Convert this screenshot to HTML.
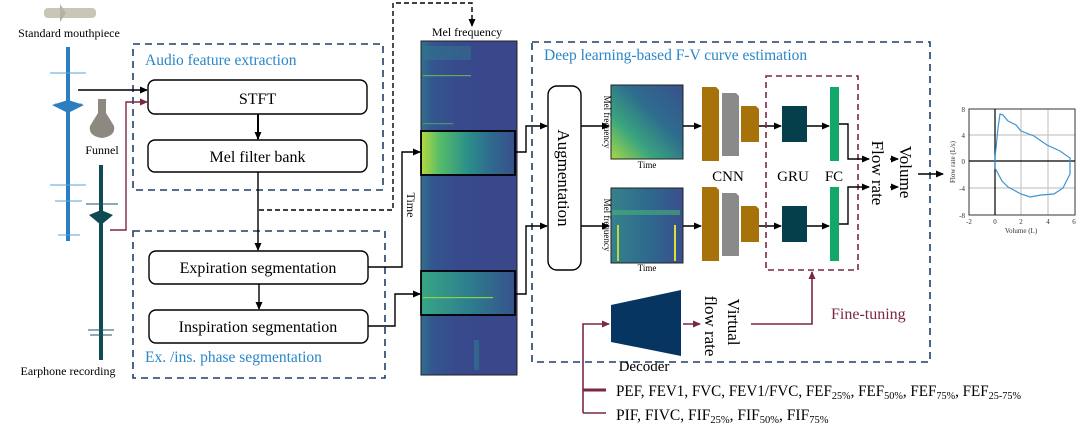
<!DOCTYPE html>
<html><head><meta charset="utf-8"><style>
html,body{margin:0;padding:0;background:#fff;}
svg{display:block;font-family:"Liberation Serif",serif;}
</style></head><body>
<svg width="1080" height="436" viewBox="0 0 1080 436" xmlns="http://www.w3.org/2000/svg">
<defs>
<marker id="ab" markerWidth="8" markerHeight="8" refX="7" refY="4" orient="auto" markerUnits="userSpaceOnUse"><path d="M0,0.5 L8,4 L0,7.5 Z" fill="#000"/></marker>
<marker id="am" markerWidth="8" markerHeight="8" refX="7" refY="4" orient="auto" markerUnits="userSpaceOnUse"><path d="M0,0.5 L8,4 L0,7.5 Z" fill="#7b2748"/></marker>
<linearGradient id="spg" x1="0" y1="0" x2="1" y2="0">
<stop offset="0" stop-color="#2f6f8e"/><stop offset="0.12" stop-color="#34568e"/><stop offset="0.4" stop-color="#38498c"/><stop offset="1" stop-color="#3a478a"/></linearGradient>
<linearGradient id="hot1" x1="0" y1="0" x2="1" y2="0">
<stop offset="0" stop-color="#b0d840"/><stop offset="0.2" stop-color="#55bb6a"/><stop offset="0.5" stop-color="#2a8f8a"/><stop offset="0.75" stop-color="#2f6a8e"/><stop offset="1" stop-color="#38508c"/></linearGradient>
<linearGradient id="hot2" x1="0" y1="0" x2="1" y2="0">
<stop offset="0" stop-color="#38a585"/><stop offset="0.5" stop-color="#2d7f8d"/><stop offset="1" stop-color="#36538c"/></linearGradient>
<linearGradient id="sm1" x1="0" y1="1" x2="1" y2="0">
<stop offset="0" stop-color="#a8d844"/><stop offset="0.3" stop-color="#3aa57e"/><stop offset="0.6" stop-color="#2e6d8e"/><stop offset="1" stop-color="#38508c"/></linearGradient>
<linearGradient id="sm2" x1="0" y1="0" x2="1" y2="0">
<stop offset="0" stop-color="#36828c"/><stop offset="0.5" stop-color="#2e6a8e"/><stop offset="1" stop-color="#3a4e8c"/></linearGradient>
</defs>

<!-- mouthpiece -->
<rect x="44" y="8" width="52" height="10" rx="4" fill="#c9c6b8"/>
<path d="M60,4 L66,13 L60,22 Z" fill="#b5b2a5"/>
<text x="69" y="37" font-size="12" text-anchor="middle">Standard mouthpiece</text>

<!-- blue waveform -->
<rect x="66" y="47" width="4" height="194" fill="#2b7fc0"/>
<path d="M50,73 H86 M55,104 L82,104 M50,185 H86 M55,201 H82 M58,235 H80" stroke="#5aa3d8" stroke-width="1"/>
<path d="M52,105 L68,100 L84,105 L68,113 Z" fill="#2b7fc0"/>
<!-- funnel -->
<path d="M98,99 L106,99 L106,113 L114,126 Q116,136 102,138 Q88,136 90,126 L98,113 Z" fill="#8d8880"/>
<text x="102" y="154" font-size="12" text-anchor="middle">Funnel</text>
<!-- dark waveform -->
<rect x="99" y="165" width="4" height="195" fill="#0f4a55"/>
<path d="M86,204 H118 M88,330 H114 M90,335 H112" stroke="#1a5a66" stroke-width="1"/>
<path d="M89,215 L101,210 L113,215 L101,225 Z" fill="#0f4a55"/>
<text x="68" y="375" font-size="12" text-anchor="middle">Earphone recording</text>

<!-- dashed boxes -->
<rect x="133" y="44" width="250" height="146" fill="none" stroke="#1f3f66" stroke-width="1.6" stroke-dasharray="7,5"/>
<rect x="133" y="231" width="252" height="147" fill="none" stroke="#1f3f66" stroke-width="1.6" stroke-dasharray="7,5"/>
<rect x="532" y="42" width="398" height="320" fill="none" stroke="#1f3f66" stroke-width="1.6" stroke-dasharray="7,5"/>
<text x="145" y="65" font-size="15.5" fill="#2a86c8">Audio feature extraction</text>
<text x="145" y="362" font-size="15.5" fill="#2a86c8">Ex. /ins. phase segmentation</text>
<text x="544" y="60" font-size="15.5" fill="#2a86c8">Deep learning-based F-V curve estimation</text>

<!-- left boxes -->
<rect x="148" y="80" width="219" height="34" rx="7" fill="#fff" stroke="#000" stroke-width="1.4"/>
<text x="257.5" y="104" font-size="16" text-anchor="middle">STFT</text>
<rect x="148" y="140" width="219" height="32" rx="7" fill="#fff" stroke="#000" stroke-width="1.4"/>
<text x="257.5" y="162" font-size="16" text-anchor="middle">Mel filter bank</text>
<rect x="149" y="251" width="219" height="33" rx="7" fill="#fff" stroke="#000" stroke-width="1.4"/>
<text x="258" y="273" font-size="16" text-anchor="middle">Expiration segmentation</text>
<rect x="149" y="310" width="219" height="33" rx="7" fill="#fff" stroke="#000" stroke-width="1.4"/>
<text x="258" y="332" font-size="16" text-anchor="middle">Inspiration segmentation</text>

<!-- arrows left -->
<path d="M78,90 H147" stroke="#000" stroke-width="1.4" fill="none" marker-end="url(#ab)"/>
<path d="M110,230 H126 V102 H147" stroke="#7b2748" stroke-width="1.4" fill="none" marker-end="url(#am)"/>
<path d="M258,114 V139" stroke="#000" stroke-width="2" marker-end="url(#ab)"/>
<path d="M258,172 V250" stroke="#000" stroke-width="1.4" marker-end="url(#ab)"/>
<path d="M259,284 V309" stroke="#000" stroke-width="1.4" marker-end="url(#ab)"/>
<path d="M259,210 H393 V3 H472 V26" stroke="#000" stroke-width="1.4" stroke-dasharray="5,3" fill="none" marker-end="url(#ab)"/>
<path d="M368,267 H402 V152 H420" stroke="#000" stroke-width="1.4" fill="none" marker-end="url(#ab)"/>
<path d="M368,326 H395 V294 H420" stroke="#000" stroke-width="1.4" fill="none" marker-end="url(#ab)"/>

<!-- big spectrogram -->
<text x="467" y="36" font-size="12" text-anchor="middle">Mel frequency</text>
<rect x="421" y="41" width="96" height="334" fill="url(#spg)" stroke="#222" stroke-width="1"/>
<rect x="423" y="46" width="48" height="14" fill="#2f7a8c" opacity="0.5"/>
<rect x="423" y="75" width="48" height="1.2" fill="#6fbf5a" opacity="0.8"/>
<rect x="423" y="123" width="30" height="1.2" fill="#4fa870" opacity="0.8"/>
<rect x="422" y="132" width="92" height="42" fill="url(#hot1)"/>
<rect x="422" y="272" width="92" height="42" fill="url(#hot2)"/>
<rect x="423" y="297" width="70" height="1.2" fill="#8fd04a"/>
<rect x="474" y="340" width="5" height="30" fill="#2f7a8c" opacity="0.6"/>
<rect x="421" y="131" width="94" height="44" fill="none" stroke="#000" stroke-width="1.8"/>
<rect x="421" y="271" width="94" height="44" fill="none" stroke="#000" stroke-width="1.8"/>
<text transform="translate(407,205) rotate(90)" font-size="12" text-anchor="middle">Time</text>
<path d="M515,152 H526 V126 H547" stroke="#000" stroke-width="1.4" fill="none" marker-end="url(#ab)"/>
<path d="M515,294 H526 V226 H547" stroke="#000" stroke-width="1.4" fill="none" marker-end="url(#ab)"/>

<!-- augmentation -->
<rect x="548" y="86" width="33" height="184" rx="9" fill="#fff" stroke="#000" stroke-width="1.4"/>
<text transform="translate(558,178) rotate(90)" font-size="17" text-anchor="middle">Augmentation</text>
<path d="M581,126 H609" stroke="#000" stroke-width="1.4" marker-end="url(#ab)"/>
<path d="M581,226 H609" stroke="#000" stroke-width="1.4" marker-end="url(#ab)"/>

<!-- small spectrograms -->
<rect x="611" y="85" width="72" height="74" fill="url(#sm1)" stroke="#222"/>
<rect x="611" y="188" width="72" height="75" fill="url(#sm2)" stroke="#222"/>
<rect x="612" y="210" width="68" height="5" fill="#46b07a" opacity="0.6"/>
<rect x="617" y="225" width="2" height="36" fill="#b7dc3e"/>
<rect x="674" y="225" width="2" height="36" fill="#d8e23a"/>
<text transform="translate(604,122) rotate(90)" font-size="9" text-anchor="middle">Mel frequency</text>
<text transform="translate(604,225) rotate(90)" font-size="9" text-anchor="middle">Mel frequency</text>
<text x="647" y="168" font-size="9" text-anchor="middle">Time</text>
<text x="647" y="271" font-size="9" text-anchor="middle">Time</text>
<path d="M683,126 H701" stroke="#000" stroke-width="1.4" marker-end="url(#ab)"/>
<path d="M683,226 H701" stroke="#000" stroke-width="1.4" marker-end="url(#ab)"/>

<!-- CNN blocks -->
<g id="cnn">
<path d="M702,87 L716,87 L719,90 L719,161 L702,161 Z" fill="#a8720a"/>
<path d="M722,93 L736,93 L739,96 L739,156 L722,156 Z" fill="#8a8a8a"/>
<path d="M741,106 L756,106 L759,109 L759,142 L741,142 Z" fill="#a8720a"/>
</g>
<use href="#cnn" transform="translate(0,100)"/>
<text x="728" y="181" font-size="15" text-anchor="middle">CNN</text>
<path d="M759,126 H781" stroke="#000" stroke-width="1.4" marker-end="url(#ab)"/>
<path d="M759,226 H781" stroke="#000" stroke-width="1.4" marker-end="url(#ab)"/>

<!-- fine-tune dashed -->
<rect x="766" y="76" width="92" height="194" fill="none" stroke="#7b2748" stroke-width="1.6" stroke-dasharray="6,4"/>
<rect x="782" y="106" width="25" height="36" fill="#063f4c"/>
<rect x="782" y="206" width="25" height="36" fill="#063f4c"/>
<rect x="830" y="87" width="9" height="74" fill="#13a86a"/>
<rect x="830" y="187" width="9" height="74" fill="#13a86a"/>
<text x="793" y="181" font-size="15" text-anchor="middle">GRU</text>
<text x="834" y="181" font-size="15" text-anchor="middle">FC</text>
<path d="M807,126 H829" stroke="#000" stroke-width="1.4" marker-end="url(#ab)"/>
<path d="M807,226 H829" stroke="#000" stroke-width="1.4" marker-end="url(#ab)"/>
<path d="M839,124 H848 V159 H869" stroke="#000" stroke-width="1.4" fill="none" marker-end="url(#ab)"/>
<path d="M839,224 H848 V187 H869" stroke="#000" stroke-width="1.4" fill="none" marker-end="url(#ab)"/>
<text transform="translate(872,173) rotate(90)" font-size="17" text-anchor="middle">Flow rate</text>
<text transform="translate(900,172) rotate(90)" font-size="17" text-anchor="middle">Volume</text>
<path d="M890,159 H898" stroke="#000" stroke-width="1.4" marker-end="url(#ab)"/>
<path d="M890,187 H898" stroke="#000" stroke-width="1.4" marker-end="url(#ab)"/>
<path d="M918,174 H943" stroke="#000" stroke-width="1.6" marker-end="url(#ab)"/>

<!-- decoder -->
<path d="M611,305 L681,290 L681,356 L611,342 Z" fill="#063562"/>
<text x="644" y="371" font-size="15" text-anchor="middle">Decoder</text>
<path d="M583,413 V324 H609" stroke="#7b2748" stroke-width="1.6" fill="none" marker-end="url(#am)"/>
<path d="M683,324 H700" stroke="#7b2748" stroke-width="1.6" marker-end="url(#am)"/>
<text transform="translate(705,326) rotate(90)" font-size="17" text-anchor="middle">flow rate</text>
<text transform="translate(728,322) rotate(90)" font-size="17" text-anchor="middle">Virtual</text>
<path d="M751,324 H812 V272" stroke="#7b2748" stroke-width="1.6" fill="none" marker-end="url(#am)"/>
<text x="831" y="319" font-size="16" fill="#7b2748">Fine-tuning</text>

<!-- bottom branches -->
<path d="M583,390 H606" stroke="#7b2748" stroke-width="3"/>
<path d="M583,413 H606" stroke="#7b2748" stroke-width="1.6"/>
<text x="616" y="396" font-size="15.5" textLength="405" lengthAdjust="spacingAndGlyphs">PEF, FEV1, FVC, FEV1/FVC, FEF<tspan font-size="10.5" dy="3">25%</tspan><tspan dy="-3">, FEF</tspan><tspan font-size="10.5" dy="3">50%</tspan><tspan dy="-3">, FEF</tspan><tspan font-size="10.5" dy="3">75%</tspan><tspan dy="-3">, FEF</tspan><tspan font-size="10.5" dy="3">25-75%</tspan></text>
<text x="616" y="420" font-size="15.5">PIF, FIVC, FIF<tspan font-size="10.5" dy="3">25%</tspan><tspan dy="-3">, FIF</tspan><tspan font-size="10.5" dy="3">50%</tspan><tspan dy="-3">, FIF</tspan><tspan font-size="10.5" dy="3">75%</tspan></text>

<!-- F-V plot -->
<g stroke="#c8c8c8" stroke-width="1.2">
<path d="M1021,109 V215 M1048,109 V215 M969,135 H1075 M969,188 H1075"/>
</g>
<rect x="969" y="109" width="106" height="106" fill="none" stroke="#333" stroke-width="1"/>
<path d="M995,109 V215 M969,161 H1075" stroke="#000" stroke-width="1.2"/>
<path d="M995,158 L998,128 L1000,114 L1003,115 L1008,121 L1016,125 L1021,131 L1034,136 L1047,145 L1060,151 L1070,158 L1070,174 L1063,188 L1054,194 L1041,195 L1030,197 L1021,194 L1008,187 L1002,181 L995,168 Z" fill="none" stroke="#3d94d4" stroke-width="1.2"/>
<g font-size="7" fill="#333">
<text x="965" y="112" text-anchor="end">8</text><text x="965" y="138" text-anchor="end">4</text><text x="965" y="164" text-anchor="end">0</text><text x="965" y="191" text-anchor="end">-4</text><text x="965" y="218" text-anchor="end">-8</text>
<text x="969" y="224" text-anchor="middle">-2</text><text x="995" y="224" text-anchor="middle">0</text><text x="1021" y="224" text-anchor="middle">2</text><text x="1048" y="224" text-anchor="middle">4</text><text x="1074" y="224" text-anchor="middle">6</text>
<text x="1021" y="233" text-anchor="middle">Volume (L)</text>
<text transform="translate(955,162) rotate(-90)" text-anchor="middle">Flow rate (L/s)</text>
</g>
</svg>
</body></html>
